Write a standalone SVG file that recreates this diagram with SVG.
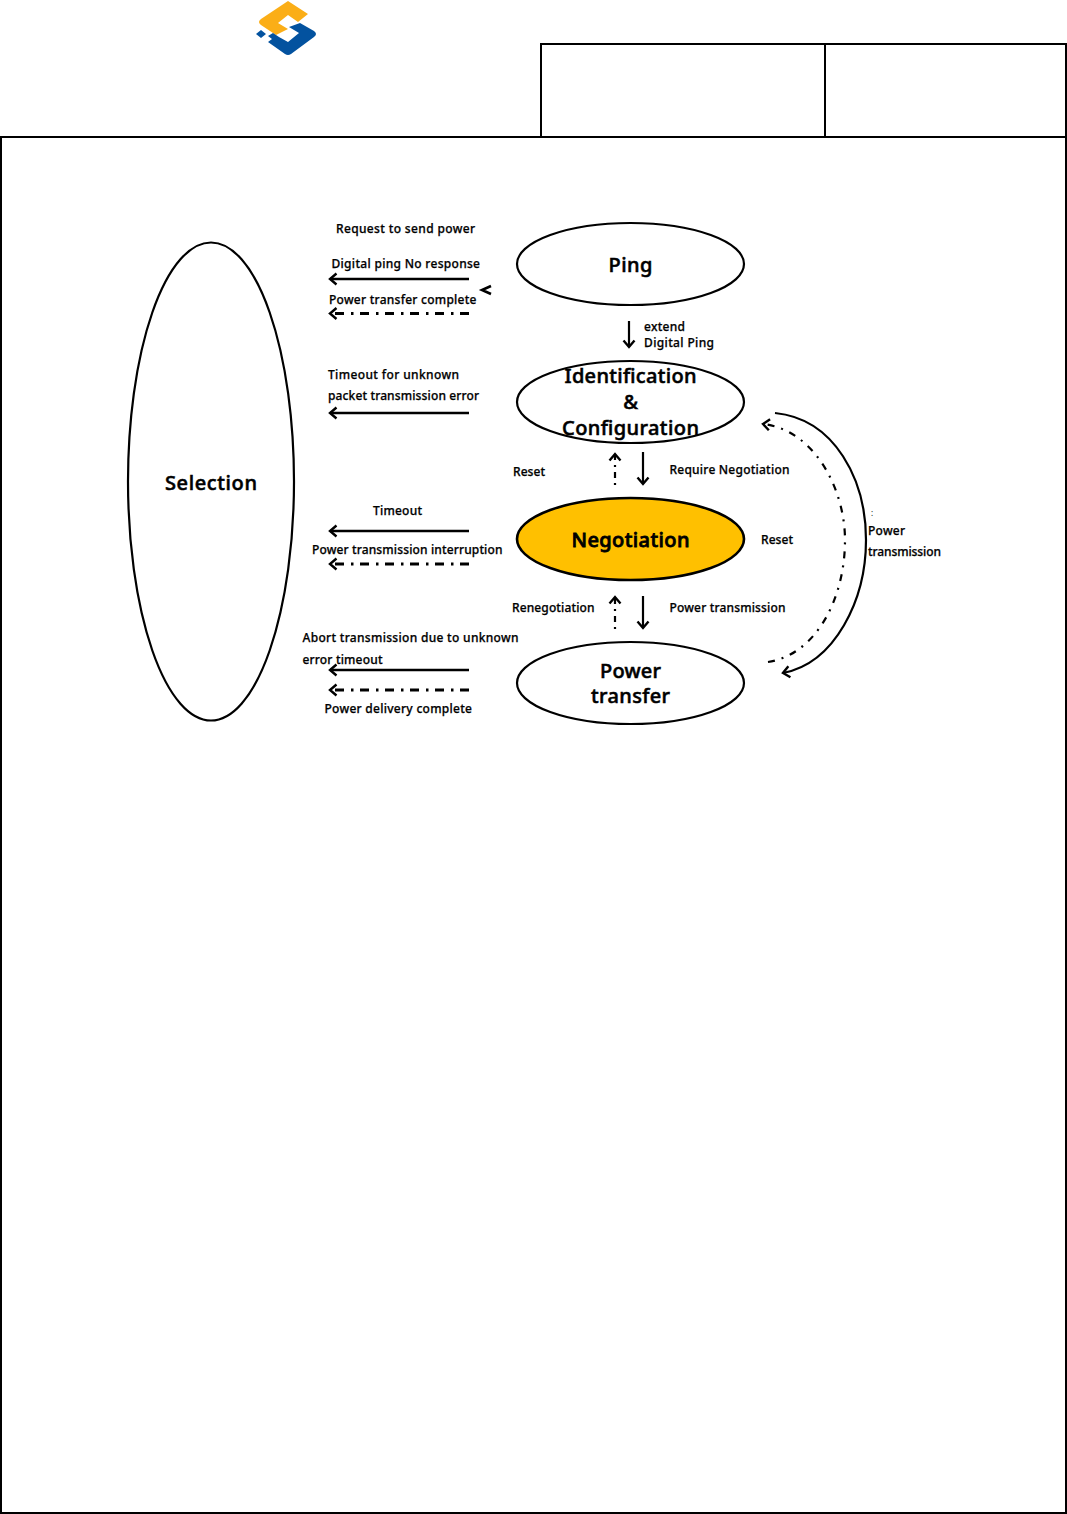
<svg xmlns="http://www.w3.org/2000/svg" width="1067" height="1514" viewBox="0 0 1067 1514">
<style>
text{font-family:"Noto Sans","Open Sans","Liberation Sans",sans-serif;fill:#000}
.s{font-size:12px;font-weight:500;stroke:#000;stroke-width:.25px}
.n{font-size:20px;font-weight:500;text-anchor:middle;stroke:#000;stroke-width:.55px}
.e{fill:#fff;stroke:#000;stroke-width:2.200}
.f{fill:none;stroke:#000;stroke-width:2}
.b{fill:none;stroke:#000;stroke-width:2.600}
.c{fill:none;stroke:#000;stroke-width:2.200}
.d{stroke-width:3;stroke-dasharray:9 6.500 2.500 7}
.g{stroke-dasharray:7 7 2 7}
.v{stroke-width:2.200;stroke-dasharray:2 5 6 5}
</style>
<defs>
<marker id="a" markerUnits="userSpaceOnUse" markerWidth="14" markerHeight="14" refX="11" refY="7" orient="auto">
<path d="M4.500 1.500L11 7L4.500 12.500" fill="none" stroke="#000" stroke-width="2.400"/>
</marker>
</defs>
<g id="logo">
<path d="M288 1L308 14L298 22L288 15L278 23L288 29L276 35L261 25Q257 22 261 19Z" fill="#fbae17"/>
<path d="M300 23L314 31Q318 34 314 37L291 54Q288 56 285 54L268 42L272 39L268 36L273 33L279 37L288 42L299 33L289 27Z" fill="#03529f"/>
<path d="M261 30L266 34L261 38L256 34Z" fill="#03529f"/>
</g>
<g id="frame">
<path class="f" d="M1 137H1066V1513H1V137ZM541 137V44H1066V137M825 44V137"/>
</g>
<g id="selection">
<ellipse class="e" cx="211" cy="481.500" rx="83" ry="239"/>
<text class="n" x="211" y="489.500" textLength="92">Selection</text>
</g>
<g id="ping">
<ellipse class="e" cx="630.500" cy="264" rx="113.500" ry="41"/>
<text class="n" x="630.500" y="271.500" textLength="44">Ping</text>
</g>
<g id="identification">
<ellipse class="e" cx="630.500" cy="402" rx="113.500" ry="41"/>
<text class="n" x="630.500" y="383" textLength="132">Identification</text>
<text class="n" x="630.500" y="408.500">&amp;</text>
<text class="n" x="630.500" y="434.500" textLength="137">Configuration</text>
</g>
<g id="negotiation">
<ellipse class="e" cx="630.500" cy="539" rx="113.500" ry="41" style="fill:#ffc000;stroke-width:2.600"/>
<text class="n" x="630.500" y="546.500" textLength="118" style="stroke-width:.8px">Negotiation</text>
</g>
<g id="power-transfer">
<ellipse class="e" cx="630.500" cy="683" rx="113.500" ry="41"/>
<text class="n" x="630.500" y="677.500" textLength="61">Power</text>
<text class="n" x="630.500" y="702.500" textLength="79">transfer</text>
</g>
<g id="connectors">
<path class="b" d="M469 279H330" marker-end="url(#a)"/>
<path class="b d" d="M469 313.500H330" marker-end="url(#a)"/>
<path class="b" d="M491 286L482 290L491 294"/>
<path class="b" d="M469 413H330" marker-end="url(#a)"/>
<path class="b" d="M469 531H330" marker-end="url(#a)"/>
<path class="b d" d="M469 564H330" marker-end="url(#a)"/>
<path class="b" d="M469 670H330" marker-end="url(#a)"/>
<path class="b d" d="M469 690H330" marker-end="url(#a)"/>
<path class="c" d="M629 321V347" marker-end="url(#a)"/>
<path class="c" d="M643 452V484" marker-end="url(#a)"/>
<path class="c v" d="M615 485V454" marker-end="url(#a)"/>
<path class="c" d="M643 596V628" marker-end="url(#a)"/>
<path class="c v" d="M615 629V597" marker-end="url(#a)"/>
<path class="c" d="M775 413C835 419 866 480 866 540C866 600 835 663 783 673" marker-end="url(#a)"/>
<path class="c g" d="M768 662C815 655 845 600 845 540C845 490 815 430 763 424" marker-end="url(#a)"/>
</g>
<g id="labels">
<text class="s" x="336" y="233" textLength="139">Request to send power</text>
<text class="s" x="331.500" y="268" textLength="148.500">Digital ping No response</text>
<text class="s" x="329" y="304" textLength="147.500">Power transfer complete</text>
<text class="s" x="328" y="379" textLength="131">Timeout for unknown</text>
<text class="s" x="328" y="400" textLength="151">packet transmission error</text>
<text class="s" x="373" y="515" textLength="49">Timeout</text>
<text class="s" x="312" y="554" textLength="190.500">Power transmission interruption</text>
<text class="s" x="302.500" y="642" textLength="216">Abort transmission due to unknown</text>
<text class="s" x="302.500" y="664" textLength="80">error timeout</text>
<text class="s" x="324.500" y="713" textLength="147.500">Power delivery complete</text>
<text class="s" x="644" y="331" textLength="41">extend</text>
<text class="s" x="644" y="347" textLength="70">Digital Ping</text>
<text class="s" x="513" y="476" textLength="32">Reset</text>
<text class="s" x="669.500" y="474" textLength="120">Require Negotiation</text>
<text class="s" x="761" y="544" textLength="32">Reset</text>
<text class="s" x="512" y="612" textLength="82.500">Renegotiation</text>
<text class="s" x="669.500" y="612" textLength="116">Power transmission</text>
<text class="s" x="868" y="535" textLength="37">Power</text>
<text class="s" x="868" y="556" textLength="73">transmission</text>
<text x="871" y="516" style="font-size:8px">:</text>
</g>
</svg>
